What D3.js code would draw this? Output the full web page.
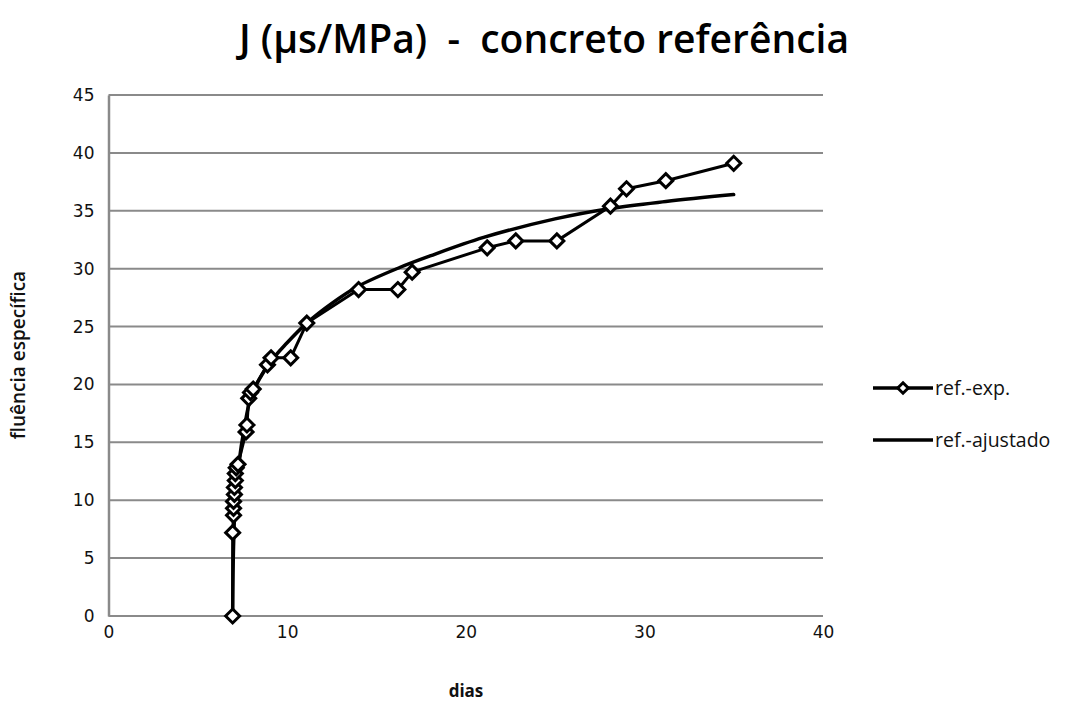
<!DOCTYPE html>
<html>
<head>
<meta charset="utf-8">
<script src="https://cdn.jsdelivr.net/npm/d3@7"></script>
<style>
  html, body { margin: 0; padding: 0; background: #fff; }
  svg { display: block; }
</style>
</head>
<body>
<svg id="chart" width="1078" height="722"></svg>
<script>
// Specific creep of the reference concrete: measured points and fitted curve
const expDays = [6.95, 6.95, 7.0, 7.0, 7.0, 7.05, 7.05, 7.1, 7.1, 7.15, 7.25,
  7.7, 7.75, 7.85, 7.95, 8.1, 8.9, 9.1, 10.2, 11.1, 14.0, 16.2, 17.0,
  21.2, 22.8, 25.1, 28.1, 29.0, 31.2, 35.0];
const expValues = [0, 7.2, 8.7, 9.3, 9.9, 10.5, 11.1, 11.7, 12.3, 12.8, 13.1,
  15.9, 16.5, 18.8, 19.3, 19.6, 21.7, 22.3, 22.3, 25.3, 28.2, 28.2, 29.7,
  31.8, 32.4, 32.4, 35.4, 36.9, 37.6, 39.1];

const fitDays = [6.95, 7.0, 7.1, 7.3, 7.6, 8.0, 9.0, 10.0, 11.1, 12.5, 14.0,
  16.3, 18.0, 21.0, 25.0, 28.1, 31.2, 35.0];
const fitValues = [0, 6.0, 10.0, 13.2, 16.2, 19.0, 21.8, 23.6, 25.3, 27.0, 28.5,
  30.1, 31.1, 32.7, 34.3, 35.2, 35.8, 36.4];

const xTicks = [0, 10, 20, 30, 40];
const yTicks = [0, 5, 10, 15, 20, 25, 30, 35, 40, 45];

const seriesNames = ["ref.-exp.", "ref.-ajustado"];
const titleText = "J (µs/MPa)  -  concreto referência";
const xLabel = "dias";
const yLabel = "fluência específica";

const svg = d3.select("#chart");
const plot = { left: 108.5, right: 823, top: 95, bottom: 616 };

const x = d3.scaleLinear().domain([0, 40]).range([plot.left, plot.right]);
const y = d3.scaleLinear().domain([0, 45]).range([plot.bottom, plot.top]);

const tickFont = "DejaVu Sans, Verdana, sans-serif";
const labelFont = "'Open Sans', 'Noto Sans', sans-serif";

// Horizontal gridlines
svg.append("g")
  .selectAll("line")
  .data(yTicks)
  .join("line")
  .attr("x1", plot.left).attr("x2", plot.right)
  .attr("y1", d => y(d)).attr("y2", d => y(d))
  .attr("stroke", "#8a8a8a").attr("stroke-width", 2);

// Y axis
const yAxis = svg.append("g")
  .attr("transform", `translate(${plot.left},0)`)
  .call(d3.axisLeft(y).tickValues(yTicks).tickSize(0).tickPadding(14).tickFormat(d3.format("d")));
yAxis.select(".domain").attr("stroke", "#8a8a8a").attr("stroke-width", 2.5);
yAxis.selectAll("text")
  .attr("font-family", tickFont).attr("font-size", 17).attr("fill", "#111");

// X axis (labels only, below the zero gridline)
const xAxis = svg.append("g")
  .attr("transform", `translate(0,${plot.bottom})`)
  .call(d3.axisBottom(x).tickValues(xTicks).tickSize(0).tickPadding(10).tickFormat(d3.format("d")));
xAxis.select(".domain").remove();
xAxis.selectAll("text")
  .attr("font-family", tickFont).attr("font-size", 17).attr("fill", "#111");

const fitData = fitDays.map((d, i) => [d, fitValues[i]]);
const expData = expDays.map((d, i) => [d, expValues[i]]);

// Fitted curve
svg.append("path")
  .datum(fitData)
  .attr("d", d3.line().x(d => x(d[0])).y(d => y(d[1])).curve(d3.curveCatmullRom.alpha(0.5)))
  .attr("fill", "none").attr("stroke", "#000").attr("stroke-width", 3.5)
  .attr("stroke-linejoin", "round").attr("stroke-linecap", "round");

// Measured series: polyline with diamond markers
svg.append("path")
  .datum(expData)
  .attr("d", d3.line().x(d => x(d[0])).y(d => y(d[1])))
  .attr("fill", "none").attr("stroke", "#000").attr("stroke-width", 3)
  .attr("stroke-linejoin", "round");

const diamond = d3.symbol().type(d3.symbolDiamond2).size(125);
svg.append("g")
  .selectAll("path")
  .data(expData)
  .join("path")
  .attr("d", diamond)
  .attr("transform", d => `translate(${x(d[0])},${y(d[1])})`)
  .attr("fill", "#fff").attr("stroke", "#000").attr("stroke-width", 3);

// Legend
const legend = svg.append("g").attr("transform", "translate(873,0)");
legend.append("line").attr("x1", 0).attr("x2", 60).attr("y1", 388).attr("y2", 388)
  .attr("stroke", "#000").attr("stroke-width", 3.5);
legend.append("path").attr("d", d3.symbol().type(d3.symbolDiamond2).size(70))
  .attr("transform", "translate(30,388)")
  .attr("fill", "#fff").attr("stroke", "#000").attr("stroke-width", 3);
legend.append("line").attr("x1", 0).attr("x2", 60).attr("y1", 440).attr("y2", 440)
  .attr("stroke", "#000").attr("stroke-width", 3.5);
legend.selectAll("text.leg")
  .data(seriesNames)
  .join("text")
  .attr("class", "leg")
  .attr("x", 62).attr("y", (d, i) => 388 + i * 52)
  .attr("dy", "0.35em")
  .attr("font-family", labelFont).attr("font-size", 19.5).attr("fill", "#111")
  .text(d => d);

// Title
svg.append("text")
  .attr("x", 544).attr("y", 53)
  .attr("text-anchor", "middle")
  .attr("font-family", labelFont).attr("font-size", 39).attr("font-weight", 600)
  .attr("fill", "#000")
  .style("white-space", "pre")
  .text(titleText);

// Axis titles
svg.append("text")
  .attr("x", 466).attr("y", 697)
  .attr("text-anchor", "middle")
  .attr("font-family", labelFont).attr("font-size", 17).attr("font-weight", 700)
  .attr("fill", "#111")
  .text(xLabel);

svg.append("text")
  .attr("transform", "translate(25,355) rotate(-90)")
  .attr("text-anchor", "middle")
  .attr("font-family", labelFont).attr("font-size", 19).attr("font-weight", 600)
  .attr("fill", "#111")
  .text(yLabel);
</script>
</body>
</html>
